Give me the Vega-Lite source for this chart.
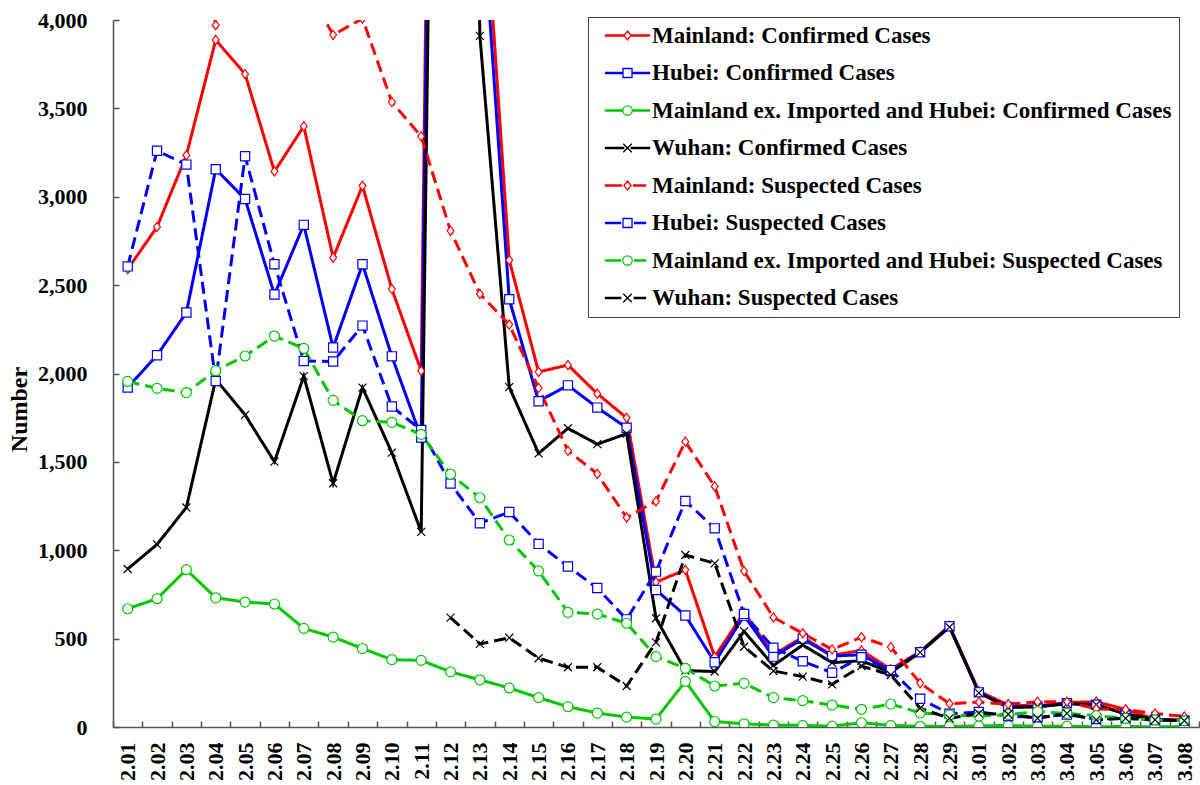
{
  "$schema": "https://vega.github.io/schema/vega-lite/v6.json",
  "width": 1086,
  "height": 707,
  "autosize": {"type": "none"},
  "padding": {"left": 113, "top": 20, "right": 1, "bottom": 58},
  "background": "white",
  "config": {"view": {"stroke": null}, "font": "Liberation Serif"},
  "resolve": {"scale": {"shape": "independent", "color": "independent"}},
  "data": {"values": [
    {"d":"2.01","s":"MC","v":2590},{"d":"2.02","s":"MC","v":2829},{"d":"2.03","s":"MC","v":3235},{"d":"2.04","s":"MC","v":3887},{"d":"2.05","s":"MC","v":3694},{"d":"2.06","s":"MC","v":3143},{"d":"2.07","s":"MC","v":3399},{"d":"2.08","s":"MC","v":2656},{"d":"2.09","s":"MC","v":3062},{"d":"2.10","s":"MC","v":2478},
    {"d":"2.11","s":"MC","v":2015},{"d":"2.12","s":"MC","v":15152},{"d":"2.13","s":"MC","v":5090},{"d":"2.14","s":"MC","v":2641},{"d":"2.15","s":"MC","v":2009},{"d":"2.16","s":"MC","v":2048},{"d":"2.17","s":"MC","v":1886},{"d":"2.18","s":"MC","v":1749},{"d":"2.19","s":"MC","v":820},{"d":"2.20","s":"MC","v":889},
    {"d":"2.21","s":"MC","v":397},{"d":"2.22","s":"MC","v":648},{"d":"2.23","s":"MC","v":409},{"d":"2.24","s":"MC","v":508},{"d":"2.25","s":"MC","v":406},{"d":"2.26","s":"MC","v":433},{"d":"2.27","s":"MC","v":327},{"d":"2.28","s":"MC","v":427},{"d":"2.29","s":"MC","v":573},
    {"d":"3.01","s":"MC","v":202},{"d":"3.02","s":"MC","v":125},{"d":"3.03","s":"MC","v":119},{"d":"3.04","s":"MC","v":139},{"d":"3.05","s":"MC","v":143},{"d":"3.06","s":"MC","v":99},{"d":"3.07","s":"MC","v":44},{"d":"3.08","s":"MC","v":40},

    {"d":"2.01","s":"HC","v":1921},{"d":"2.02","s":"HC","v":2103},{"d":"2.03","s":"HC","v":2345},{"d":"2.04","s":"HC","v":3156},{"d":"2.05","s":"HC","v":2987},{"d":"2.06","s":"HC","v":2447},{"d":"2.07","s":"HC","v":2841},{"d":"2.08","s":"HC","v":2147},{"d":"2.09","s":"HC","v":2618},{"d":"2.10","s":"HC","v":2097},
    {"d":"2.11","s":"HC","v":1638},{"d":"2.12","s":"HC","v":14840},{"d":"2.13","s":"HC","v":4823},{"d":"2.14","s":"HC","v":2420},{"d":"2.15","s":"HC","v":1843},{"d":"2.16","s":"HC","v":1933},{"d":"2.17","s":"HC","v":1807},{"d":"2.18","s":"HC","v":1693},{"d":"2.19","s":"HC","v":775},{"d":"2.20","s":"HC","v":631},
    {"d":"2.21","s":"HC","v":366},{"d":"2.22","s":"HC","v":630},{"d":"2.23","s":"HC","v":398},{"d":"2.24","s":"HC","v":499},{"d":"2.25","s":"HC","v":401},{"d":"2.26","s":"HC","v":409},{"d":"2.27","s":"HC","v":318},{"d":"2.28","s":"HC","v":423},{"d":"2.29","s":"HC","v":570},
    {"d":"3.01","s":"HC","v":196},{"d":"3.02","s":"HC","v":114},{"d":"3.03","s":"HC","v":115},{"d":"3.04","s":"HC","v":134},{"d":"3.05","s":"HC","v":126},{"d":"3.06","s":"HC","v":74},{"d":"3.07","s":"HC","v":41},{"d":"3.08","s":"HC","v":36},

    {"d":"2.01","s":"NC","v":669},{"d":"2.02","s":"NC","v":726},{"d":"2.03","s":"NC","v":890},{"d":"2.04","s":"NC","v":731},{"d":"2.05","s":"NC","v":707},{"d":"2.06","s":"NC","v":696},{"d":"2.07","s":"NC","v":558},{"d":"2.08","s":"NC","v":509},{"d":"2.09","s":"NC","v":444},{"d":"2.10","s":"NC","v":381},
    {"d":"2.11","s":"NC","v":377},{"d":"2.12","s":"NC","v":312},{"d":"2.13","s":"NC","v":267},{"d":"2.14","s":"NC","v":221},{"d":"2.15","s":"NC","v":166},{"d":"2.16","s":"NC","v":115},{"d":"2.17","s":"NC","v":79},{"d":"2.18","s":"NC","v":56},{"d":"2.19","s":"NC","v":45},{"d":"2.20","s":"NC","v":258},
    {"d":"2.21","s":"NC","v":31},{"d":"2.22","s":"NC","v":18},{"d":"2.23","s":"NC","v":11},{"d":"2.24","s":"NC","v":9},{"d":"2.25","s":"NC","v":5},{"d":"2.26","s":"NC","v":24},{"d":"2.27","s":"NC","v":9},{"d":"2.28","s":"NC","v":4},{"d":"2.29","s":"NC","v":3},
    {"d":"3.01","s":"NC","v":6},{"d":"3.02","s":"NC","v":9},{"d":"3.03","s":"NC","v":4},{"d":"3.04","s":"NC","v":5},{"d":"3.05","s":"NC","v":1},{"d":"3.06","s":"NC","v":3},{"d":"3.07","s":"NC","v":1},{"d":"3.08","s":"NC","v":1},

    {"d":"2.01","s":"WC","v":894},{"d":"2.02","s":"WC","v":1033},{"d":"2.03","s":"WC","v":1242},{"d":"2.04","s":"WC","v":1967},{"d":"2.05","s":"WC","v":1766},{"d":"2.06","s":"WC","v":1501},{"d":"2.07","s":"WC","v":1985},{"d":"2.08","s":"WC","v":1379},{"d":"2.09","s":"WC","v":1920},{"d":"2.10","s":"WC","v":1552},
    {"d":"2.11","s":"WC","v":1104},{"d":"2.12","s":"WC","v":13436},{"d":"2.13","s":"WC","v":3910},{"d":"2.14","s":"WC","v":1923},{"d":"2.15","s":"WC","v":1548},{"d":"2.16","s":"WC","v":1690},{"d":"2.17","s":"WC","v":1600},{"d":"2.18","s":"WC","v":1660},{"d":"2.19","s":"WC","v":615},{"d":"2.20","s":"WC","v":319},
    {"d":"2.21","s":"WC","v":314},{"d":"2.22","s":"WC","v":541},{"d":"2.23","s":"WC","v":348},{"d":"2.24","s":"WC","v":464},{"d":"2.25","s":"WC","v":364},{"d":"2.26","s":"WC","v":375},{"d":"2.27","s":"WC","v":308},{"d":"2.28","s":"WC","v":422},{"d":"2.29","s":"WC","v":565},
    {"d":"3.01","s":"WC","v":193},{"d":"3.02","s":"WC","v":111},{"d":"3.03","s":"WC","v":114},{"d":"3.04","s":"WC","v":131},{"d":"3.05","s":"WC","v":126},{"d":"3.06","s":"WC","v":74},{"d":"3.07","s":"WC","v":41},{"d":"3.08","s":"WC","v":36},

    {"d":"2.01","s":"MS","v":5173},{"d":"2.02","s":"MS","v":5072},{"d":"2.03","s":"MS","v":5072},{"d":"2.04","s":"MS","v":3971},{"d":"2.05","s":"MS","v":5328},{"d":"2.06","s":"MS","v":4833},{"d":"2.07","s":"MS","v":4214},{"d":"2.08","s":"MS","v":3916},{"d":"2.09","s":"MS","v":4008},{"d":"2.10","s":"MS","v":3536},
    {"d":"2.11","s":"MS","v":3342},{"d":"2.12","s":"MS","v":2807},{"d":"2.13","s":"MS","v":2450},{"d":"2.14","s":"MS","v":2277},{"d":"2.15","s":"MS","v":1918},{"d":"2.16","s":"MS","v":1563},{"d":"2.17","s":"MS","v":1432},{"d":"2.18","s":"MS","v":1185},{"d":"2.19","s":"MS","v":1277},{"d":"2.20","s":"MS","v":1614},
    {"d":"2.21","s":"MS","v":1361},{"d":"2.22","s":"MS","v":882},{"d":"2.23","s":"MS","v":620},{"d":"2.24","s":"MS","v":530},{"d":"2.25","s":"MS","v":439},{"d":"2.26","s":"MS","v":508},{"d":"2.27","s":"MS","v":452},{"d":"2.28","s":"MS","v":248},{"d":"2.29","s":"MS","v":132},
    {"d":"3.01","s":"MS","v":141},{"d":"3.02","s":"MS","v":129},{"d":"3.03","s":"MS","v":143},{"d":"3.04","s":"MS","v":143},{"d":"3.05","s":"MS","v":102},{"d":"3.06","s":"MS","v":99},{"d":"3.07","s":"MS","v":76},{"d":"3.08","s":"MS","v":60},

    {"d":"2.01","s":"HS","v":2606},{"d":"2.02","s":"HS","v":3260},{"d":"2.03","s":"HS","v":3182},{"d":"2.04","s":"HS","v":1957},{"d":"2.05","s":"HS","v":3229},{"d":"2.06","s":"HS","v":2618},{"d":"2.07","s":"HS","v":2071},{"d":"2.08","s":"HS","v":2068},{"d":"2.09","s":"HS","v":2271},{"d":"2.10","s":"HS","v":1813},
    {"d":"2.11","s":"HS","v":1680},{"d":"2.12","s":"HS","v":1377},{"d":"2.13","s":"HS","v":1153},{"d":"2.14","s":"HS","v":1216},{"d":"2.15","s":"HS","v":1036},{"d":"2.16","s":"HS","v":908},{"d":"2.17","s":"HS","v":786},{"d":"2.18","s":"HS","v":609},{"d":"2.19","s":"HS","v":879},{"d":"2.20","s":"HS","v":1279},
    {"d":"2.21","s":"HS","v":1124},{"d":"2.22","s":"HS","v":640},{"d":"2.23","s":"HS","v":448},{"d":"2.24","s":"HS","v":372},{"d":"2.25","s":"HS","v":307},{"d":"2.26","s":"HS","v":395},{"d":"2.27","s":"HS","v":322},{"d":"2.28","s":"HS","v":160},{"d":"2.29","s":"HS","v":75},
    {"d":"3.01","s":"HS","v":85},{"d":"3.02","s":"HS","v":62},{"d":"3.03","s":"HS","v":55},{"d":"3.04","s":"HS","v":70},{"d":"3.05","s":"HS","v":45},{"d":"3.06","s":"HS","v":50},{"d":"3.07","s":"HS","v":40},{"d":"3.08","s":"HS","v":35},

    {"d":"2.01","s":"NS","v":1955},{"d":"2.02","s":"NS","v":1916},{"d":"2.03","s":"NS","v":1892},{"d":"2.04","s":"NS","v":2016},{"d":"2.05","s":"NS","v":2099},{"d":"2.06","s":"NS","v":2212},{"d":"2.07","s":"NS","v":2142},{"d":"2.08","s":"NS","v":1848},{"d":"2.09","s":"NS","v":1733},{"d":"2.10","s":"NS","v":1724},
    {"d":"2.11","s":"NS","v":1656},{"d":"2.12","s":"NS","v":1430},{"d":"2.13","s":"NS","v":1297},{"d":"2.14","s":"NS","v":1058},{"d":"2.15","s":"NS","v":883},{"d":"2.16","s":"NS","v":649},{"d":"2.17","s":"NS","v":639},{"d":"2.18","s":"NS","v":587},{"d":"2.19","s":"NS","v":398},{"d":"2.20","s":"NS","v":332},
    {"d":"2.21","s":"NS","v":232},{"d":"2.22","s":"NS","v":247},{"d":"2.23","s":"NS","v":166},{"d":"2.24","s":"NS","v":149},{"d":"2.25","s":"NS","v":124},{"d":"2.26","s":"NS","v":100},{"d":"2.27","s":"NS","v":130},{"d":"2.28","s":"NS","v":80},{"d":"2.29","s":"NS","v":68},
    {"d":"3.01","s":"NS","v":62},{"d":"3.02","s":"NS","v":70},{"d":"3.03","s":"NS","v":87},{"d":"3.04","s":"NS","v":77},{"d":"3.05","s":"NS","v":64},{"d":"3.06","s":"NS","v":49},{"d":"3.07","s":"NS","v":40},{"d":"3.08","s":"NS","v":35},

    {"d":"2.12","s":"WS","v":619},{"d":"2.13","s":"WS","v":470},{"d":"2.14","s":"WS","v":505},{"d":"2.15","s":"WS","v":389},{"d":"2.16","s":"WS","v":338},{"d":"2.17","s":"WS","v":338},{"d":"2.18","s":"WS","v":232},{"d":"2.19","s":"WS","v":479},{"d":"2.20","s":"WS","v":973},
    {"d":"2.21","s":"WS","v":926},{"d":"2.22","s":"WS","v":454},{"d":"2.23","s":"WS","v":317},{"d":"2.24","s":"WS","v":285},{"d":"2.25","s":"WS","v":241},{"d":"2.26","s":"WS","v":345},{"d":"2.27","s":"WS","v":294},{"d":"2.28","s":"WS","v":106},{"d":"2.29","s":"WS","v":49},
    {"d":"3.01","s":"WS","v":77},{"d":"3.02","s":"WS","v":72},{"d":"3.03","s":"WS","v":49},{"d":"3.04","s":"WS","v":77},{"d":"3.05","s":"WS","v":40},{"d":"3.06","s":"WS","v":49},{"d":"3.07","s":"WS","v":40},{"d":"3.08","s":"WS","v":36}
  ]},
  "encoding": {
    "x": {
      "field": "d", "type": "ordinal", "sort": "ascending",
      "scale": {"type": "band", "paddingInner": 0, "paddingOuter": 0},
      "bandPosition": 0.5,
      "axis": {
        "title": null, "labelAngle": -90, "labelAlign": "right", "labelBaseline": "middle",
        "labelFont": "Liberation Serif", "labelFontWeight": "bold", "labelFontSize": 22, "labelColor": "black",
        "labelPadding": 21, "tickSize": -6, "tickColor": "#555", "tickWidth": 1.5, "tickBand": "extent",
        "domainColor": "#555", "domainWidth": 1.5, "grid": false
      }
    },
    "y": {
      "field": "v", "type": "quantitative",
      "scale": {"domain": [0, 4000], "nice": false},
      "axis": {
        "title": "Number", "values": [0, 500, 1000, 1500, 2000, 2500, 3000, 3500, 4000], "format": ",d",
        "labelFont": "Liberation Serif", "labelFontWeight": "bold", "labelFontSize": 22, "labelColor": "black",
        "labelPadding": 32, "tickSize": -6, "tickColor": "#555", "tickWidth": 1.5,
        "domainColor": "#555", "domainWidth": 1.5, "grid": false,
        "titleFont": "Liberation Serif", "titleFontWeight": "bold", "titleFontSize": 24, "titleColor": "black",
        "titleAngle": -90, "titleX": -94, "titleY": 389, "titleAlign": "center", "titleBaseline": "middle"
      }
    }
  },
  "layer": [
    {
      "mark": {"type": "line", "strokeWidth": 3, "clip": true},
      "encoding": {
        "stroke": {
          "field": "s", "type": "nominal",
          "scale": {
            "domain": ["MC", "HC", "NC", "WC", "MS", "HS", "NS", "WS"],
            "range": ["#ff0000", "#0000ff", "#00c800", "#000000", "#ff0000", "#0000ff", "#00c800", "#000000"]
          },
          "legend": null
        },
        "strokeDash": {
          "field": "s", "type": "nominal",
          "scale": {
            "domain": ["MC", "HC", "NC", "WC", "MS", "HS", "NS", "WS"],
            "range": [[1, 0], [1, 0], [1, 0], [1, 0], [12, 6], [12, 6], [12, 6], [12, 6]]
          },
          "legend": null
        }
      }
    },
    {
      "mark": {"type": "point", "filled": false, "fill": "white", "fillOpacity": 1, "opacity": 1, "strokeWidth": 1.2, "size": 64, "clip": true},
      "encoding": {
        "stroke": {
          "field": "s", "type": "nominal",
          "scale": {
            "domain": ["MC", "HC", "NC", "WC", "MS", "HS", "NS", "WS"],
            "range": ["#ff0000", "#0000ff", "#00c800", "#000000", "#ff0000", "#0000ff", "#00c800", "#000000"]
          },
          "legend": null
        },
        "shape": {
          "field": "s", "type": "nominal",
          "scale": {
            "domain": ["MC", "HC", "NC", "WC", "MS", "HS", "NS", "WS"],
            "range": [
              "M0,-1.15L0.85,0L0,1.15L-0.85,0Z",
              "M-1.15,-1.15H1.15V1.15H-1.15Z",
              "M-1.25,0A1.25,1.25,0,1,0,1.25,0A1.25,1.25,0,1,0,-1.25,0Z",
              "M-1,-1L1,1M-1,1L1,-1",
              "M0,-1.15L0.85,0L0,1.15L-0.85,0Z",
              "M-1.15,-1.15H1.15V1.15H-1.15Z",
              "M-1.25,0A1.25,1.25,0,1,0,1.25,0A1.25,1.25,0,1,0,-1.25,0Z",
              "M-1,-1L1,1M-1,1L1,-1"
            ]
          },
          "legend": null
        }
      }
    },
    {
      "transform": [{"filter": "datum.v < 0"}],
      "mark": {"type": "point", "filled": false, "strokeWidth": 1.3, "clip": true},
      "encoding": {
        "color": {
          "field": "s", "type": "nominal",
          "scale": {
            "domain": ["MC", "HC", "NC", "WC", "MS", "HS", "NS", "WS"],
            "range": ["#ff0000", "#0000ff", "#00c800", "#000000", "#ff0000", "#0000ff", "#00c800", "#000000"]
          },
          "legend": {
            "title": null, "orient": "none", "legendX": 475, "legendY": -3, "direction": "vertical",
            "padding": 7, "rowPadding": 13.5, "labelOffset": 34, "symbolSize": 81, "symbolStrokeWidth": 1.3,
            "symbolOpacity": 1, "symbolFillColor": "white",
            "labelFont": "Liberation Serif", "labelFontWeight": "bold", "labelFontSize": 23, "labelColor": "black", "labelLimit": 0,
            "fillColor": "white", "strokeColor": "#444",
            "labelExpr": "['Mainland: Confirmed Cases','Hubei: Confirmed Cases','Mainland ex. Imported and Hubei: Confirmed Cases','Wuhan: Confirmed Cases','Mainland: Suspected Cases','Hubei: Suspected Cases','Mainland ex. Imported and Hubei: Suspected Cases','Wuhan: Suspected Cases'][indexof(['MC','HC','NC','WC','MS','HS','NS','WS'], datum.value)]"
          }
        },
        "shape": {
          "field": "s", "type": "nominal",
          "scale": {
            "domain": ["MC", "HC", "NC", "WC", "MS", "HS", "NS", "WS"],
            "range": [
              "M-0.22,-0.16H3.87V0.16H-0.22ZM5.47,-0.16H9.56V0.16H5.47ZM4.67,-1L5.47,0L4.67,1L3.87,0Z",
              "M-0.22,-0.16H3.67V0.16H-0.22ZM5.67,-0.16H9.56V0.16H5.67ZM3.67,-1H5.67V1H3.67Z",
              "M-0.22,-0.16H3.62V0.16H-0.22ZM5.72,-0.16H9.56V0.16H5.72ZM3.62,0A1.05,1.05,0,1,0,5.72,0A1.05,1.05,0,1,0,3.62,0Z",
              "M-0.22,-0.16H3.83V0.16H-0.22ZM5.51,-0.16H9.56V0.16H5.51ZM3.72,-0.95L5.62,0.95M3.72,0.95L5.62,-0.95",
              "M-0.22,-0.16H3.32V0.16H-0.22ZM6.02,-0.16H8.67V0.16H6.02ZM4.67,-1L5.47,0L4.67,1L3.87,0Z",
              "M-0.22,-0.16H3.12V0.16H-0.22ZM6.22,-0.16H8.67V0.16H6.22ZM3.67,-1H5.67V1H3.67Z",
              "M-0.22,-0.16H3.07V0.16H-0.22ZM6.27,-0.16H8.67V0.16H6.27ZM3.62,0A1.05,1.05,0,1,0,5.72,0A1.05,1.05,0,1,0,3.62,0Z",
              "M-0.22,-0.16H3.17V0.16H-0.22ZM6.17,-0.16H8.67V0.16H6.17ZM3.72,-0.95L5.62,0.95M3.72,0.95L5.62,-0.95"
            ]
          },
          "legend": {
            "title": null, "orient": "none", "legendX": 475, "legendY": -3, "direction": "vertical",
            "padding": 7, "rowPadding": 13.5, "labelOffset": 34, "symbolSize": 81, "symbolStrokeWidth": 1.3,
            "symbolOpacity": 1, "symbolFillColor": "white",
            "labelFont": "Liberation Serif", "labelFontWeight": "bold", "labelFontSize": 23, "labelColor": "black", "labelLimit": 0,
            "fillColor": "white", "strokeColor": "#444",
            "labelExpr": "['Mainland: Confirmed Cases','Hubei: Confirmed Cases','Mainland ex. Imported and Hubei: Confirmed Cases','Wuhan: Confirmed Cases','Mainland: Suspected Cases','Hubei: Suspected Cases','Mainland ex. Imported and Hubei: Suspected Cases','Wuhan: Suspected Cases'][indexof(['MC','HC','NC','WC','MS','HS','NS','WS'], datum.value)]"
          }
        }
      }
    }
  ]
}
